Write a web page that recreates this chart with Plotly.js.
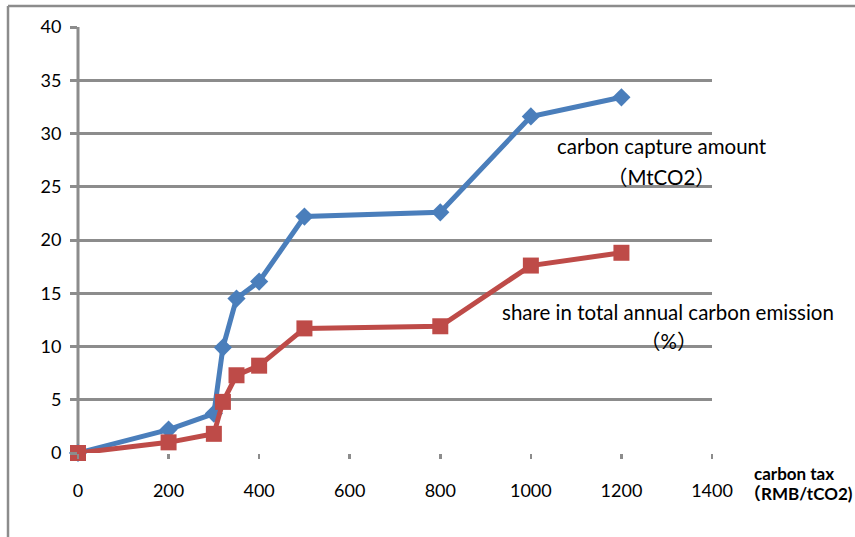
<!DOCTYPE html>
<html>
<head>
<meta charset="utf-8">
<script src="https://cdn.plot.ly/plotly-3.0.1.min.js"></script>
<style>
  html, body { margin: 0; padding: 0; background: #fff; }
  #chart { width: 855px; height: 537px; }
</style>
</head>
<body>
<div id="chart"></div>
<script>
// Carbon tax levels (RMB/tCO2)
const carbonTax = [0, 200, 300, 320, 350, 400, 500, 800, 1000, 1200];
// Carbon capture amount (MtCO2)
const captureAmount = [0, 2.2, 3.7, 9.9, 14.5, 16.1, 22.2, 22.6, 31.6, 33.4];
// Share in total annual carbon emission (%)
const emissionShare = [0, 1.0, 1.8, 4.8, 7.3, 8.2, 11.7, 11.9, 17.6, 18.8];

const xTicks = [0, 200, 400, 600, 800, 1000, 1200, 1400];
const yTicks = [0, 5, 10, 15, 20, 25, 30, 35, 40];

const FONT = 'Lato, "Noto Sans CJK SC", "Open Sans", sans-serif';
const GRID = '#8c8c8c';

const traces = [
  {
    x: carbonTax, y: captureAmount, type: 'scatter', mode: 'lines+markers',
    name: 'carbon capture amount',
    line: { color: '#4a7ebb', width: 5 },
    marker: { symbol: 'diamond', size: 14, color: '#4a7ebb' },
    cliponaxis: false
  },
  {
    x: carbonTax, y: emissionShare, type: 'scatter', mode: 'lines+markers',
    name: 'share in total annual carbon emission',
    line: { color: '#be4b48', width: 5 },
    marker: { symbol: 'square', size: 16, color: '#be4b48' },
    cliponaxis: false
  }
];

const layout = {
  width: 855, height: 537,
  margin: { l: 78, r: 143, t: 27, b: 84 },
  paper_bgcolor: '#fff', plot_bgcolor: '#fff',
  showlegend: false,
  font: { family: FONT, size: 18, color: '#000' },
  xaxis: {
    range: [0, 1400], tickvals: xTicks, ticktext: xTicks.map(String),
    showgrid: false, zeroline: false,
    showline: false,
    ticks: 'outside', ticklen: 5, tickwidth: 2.5, tickcolor: GRID,
    ticklabelstandoff: 16,
    tickfont: { family: FONT, size: 18, color: '#000' }
  },
  yaxis: {
    range: [0, 40], tickvals: yTicks, ticktext: yTicks.map(String),
    showgrid: true, gridcolor: GRID, gridwidth: 3,
    zeroline: false,
    showline: false,
    ticks: 'outside', ticklen: 7, tickwidth: 3, tickcolor: GRID,
    ticklabelstandoff: 5,
    tickfont: { family: FONT, size: 18, color: '#000' }
  },
  shapes: [
    // vertical axis line along the left edge of the plot
    { type: 'line', xref: 'paper', yref: 'paper', x0: 0, x1: 0, y0: 0, y1: 1, layer: 'below',
      line: { color: GRID, width: 3 } },
    // outer chart frame (top and left edges)
    { type: 'line', xref: 'paper', yref: 'paper', x0: -0.1104, x1: 1.25, y0: 1.0493, y1: 1.0493,
      line: { color: GRID, width: 2.5 } },
    { type: 'line', xref: 'paper', yref: 'paper', x0: -0.1104, x1: -0.1104, y0: 1.0493, y1: -0.25,
      line: { color: GRID, width: 2.5 } }
  ],
  annotations: [
    { x: 1289, y: 28.8, xref: 'x', yref: 'y', showarrow: false, text: 'carbon capture amount',
      xanchor: 'center', yanchor: 'middle', font: { family: FONT, size: 20.5, color: '#000' } },
    { x: 1289, y: 25.9, xref: 'x', yref: 'y', showarrow: false, text: '（MtCO2）',
      xanchor: 'center', yanchor: 'middle', font: { family: FONT, size: 20.5, color: '#000' } },
    { x: 1303, y: 13.2, xref: 'x', yref: 'y', showarrow: false, text: 'share in total annual carbon emission',
      xanchor: 'center', yanchor: 'middle', font: { family: FONT, size: 20.5, color: '#000' } },
    { x: 1303, y: 10.5, xref: 'x', yref: 'y', showarrow: false, text: '（%）',
      xanchor: 'center', yanchor: 'middle', font: { family: FONT, size: 20.5, color: '#000' } },
    { x: 1.063, y: -0.047, xref: 'paper', yref: 'paper', showarrow: false, text: '<b>carbon tax</b>',
      xanchor: 'left', yanchor: 'middle', font: { family: FONT, size: 17, color: '#000' } },
    { x: 1.047, y: -0.094, xref: 'paper', yref: 'paper', showarrow: false, text: '<b>（RMB/tCO2)</b>',
      xanchor: 'left', yanchor: 'middle', font: { family: FONT, size: 17, color: '#000' } }
  ]
};

Plotly.newPlot('chart', traces, layout, { displayModeBar: false, staticPlot: true });
</script>
</body>
</html>
